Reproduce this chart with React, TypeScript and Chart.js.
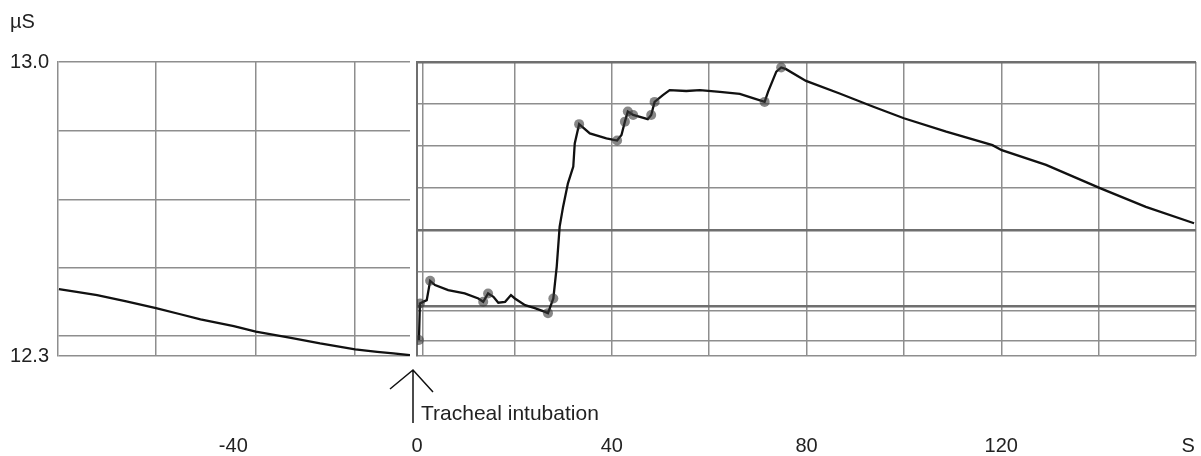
import React, { useEffect, useRef } from 'react';
import { Chart, registerables } from 'chart.js';

Chart.register(...registerables);

// ---- Data (time in s, skin conductance in µS) ----
const leftTime = [-78.8, -74.5, -70.3, -63.8, -57.2, -52.0, -47.3, -39.9, -35.0, -27.5, -20.7, -12.9, -8.0, -4.4, -0.7];
const leftValues = [12.459, 12.452, 12.445, 12.430, 12.414, 12.400, 12.387, 12.371, 12.358, 12.344, 12.330, 12.316, 12.310, 12.306, 12.302];

const rightTime = [
  0.4, 0.6, 2.0, 2.7, 3.7, 6.4, 9.8, 12.6, 13.6, 14.6,
  15.7, 16.7, 18.1, 19.3, 20.1, 22.2, 24.2, 26.3, 26.9, 28.0,
  28.7, 29.3, 30.0, 31.0, 32.1, 32.4, 33.3, 35.5, 38.9, 41.1,
  42.0, 42.7, 43.3, 44.4, 47.4, 48.1, 48.8, 50.5, 51.9, 55.3,
  58.1, 62.2, 66.3, 69.0, 71.4, 72.1, 73.8, 74.8, 75.8, 79.9,
  86.8, 93.6, 100.0, 108.7, 118.2, 120.1, 129.2, 140.4, 149.7, 159.6,
];
const rightValues = [
  12.338, 12.425, 12.433, 12.479, 12.469, 12.457, 12.449, 12.437, 12.429, 12.449,
  12.441, 12.427, 12.429, 12.445, 12.437, 12.421, 12.414, 12.405, 12.402, 12.437,
  12.513, 12.608, 12.655, 12.711, 12.751, 12.806, 12.852, 12.830, 12.818, 12.813,
  12.826, 12.858, 12.882, 12.874, 12.864, 12.874, 12.905, 12.921, 12.933, 12.931,
  12.933, 12.929, 12.924, 12.914, 12.905, 12.929, 12.977, 12.987, 12.983, 12.955,
  12.925, 12.894, 12.866, 12.834, 12.802, 12.790, 12.755, 12.699, 12.655, 12.616,
];
// indices of the right-series samples that carry event markers
const rightMarkerIdx = [0, 1, 3, 8, 9, 18, 19, 26, 29, 31, 32, 33, 35, 36, 44, 47];

// ---- Axis ticks / gridlines ----
const leftGridX = [-57.3, -35.1, -12.9];
const leftLabelX = [-40];
const leftGridY = [13.0, 12.836, 12.671, 12.509, 12.348, 12.3];
const yLabels = [13.0, 12.3];

const rightGridX = [0, 1.2, 20, 40, 60, 80, 100, 120, 140, 160];
const rightLabelX = [0, 40, 80, 120];
const unitLabelX = 158.4; // position of the "S" unit label
const rightGridY = [13.0, 12.9, 12.8, 12.7, 12.6, 12.5, 12.419, 12.407, 12.336, 12.3];
const heavyRightY = [13.0, 12.6, 12.419];

const INTUBATION_T = 0;

const FONT = "'Liberation Sans', Arial, sans-serif";
const GRID = '#8e8e8e';
const TEXT = '#222222';
const CLEAR = 'rgba(0,0,0,0)';
const LABEL_DROP = 78;
const near = (a: number, b: number) => Math.abs(a - b) < 1e-6;
const inList = (v: number, list: number[]) => list.some((l) => near(l, v));

export default function App() {
  const leftRef = useRef<HTMLCanvasElement | null>(null);
  const rightRef = useRef<HTMLCanvasElement | null>(null);

  useEffect(() => {
    if (!leftRef.current || !rightRef.current) return;

    const left = new Chart(leftRef.current, {
      type: 'line',
      data: {
        datasets: [
          {
            data: leftTime.map((t, i) => ({ x: t, y: leftValues[i] })),
            borderColor: '#111',
            borderWidth: 2.3,
            pointRadius: 0,
            tension: 0,
          },
        ],
      },
      options: {
        animation: false,
        responsive: false,
        maintainAspectRatio: false,
        events: [],
        layout: { padding: { left: 10, right: 2, top: 0, bottom: 0 } },
        plugins: {
          legend: { display: false },
          tooltip: { enabled: false },
          title: {
            display: true,
            text: 'µS',
            align: 'start',
            color: TEXT,
            font: { family: FONT, size: 20, weight: 'normal' },
            padding: { top: 10, bottom: 28 },
          },
        },
        scales: {
          x: {
            type: 'linear',
            min: -79,
            max: -0.7,
            afterBuildTicks: (s: any) => {
              s.ticks = [...leftGridX, ...leftLabelX].sort((a, b) => a - b).map((v) => ({ value: v }));
            },
            afterFit: (s: any) => {
              s.height = 100;
            },
            ticks: {
              autoSkip: false,
              maxRotation: 0,
              padding: 0,
              color: TEXT,
              font: { family: FONT, size: 20 },
              callback: (v: any) => (inList(Number(v), leftLabelX) ? String(v) : ''),
            },
            grid: {
              color: (ctx: any) => (ctx.tick && inList(ctx.tick.value, leftLabelX) ? CLEAR : GRID),
              lineWidth: 1.5,
              drawTicks: true,
              tickLength: LABEL_DROP,
              tickColor: CLEAR,
            },
            border: { display: false },
          },
          y: {
            type: 'linear',
            min: 12.3,
            max: 13.0,
            afterBuildTicks: (s: any) => {
              s.ticks = [...leftGridY].sort((a, b) => a - b).map((v) => ({ value: v }));
            },
            afterFit: (s: any) => {
              s.width = 48;
            },
            ticks: {
              autoSkip: false,
              padding: 9,
              color: TEXT,
              font: { family: FONT, size: 20 },
              callback: (v: any) => (inList(Number(v), yLabels) ? Number(v).toFixed(1) : ''),
            },
            grid: { color: GRID, lineWidth: 1.5, drawTicks: false },
            border: { display: true, color: GRID, width: 1.5 },
          },
        },
      },
    } as any);

    const annotation = {
      id: 'intubation',
      afterDraw(chart: any) {
        const { ctx, chartArea } = chart;
        const x = chart.scales.x.getPixelForValue(INTUBATION_T) - 4;
        const b = chartArea.bottom;
        ctx.save();
        ctx.strokeStyle = '#111';
        ctx.lineWidth = 1.5;
        ctx.beginPath();
        ctx.moveTo(x, b + 14);
        ctx.lineTo(x, b + 67);
        ctx.moveTo(x - 23, b + 33);
        ctx.lineTo(x, b + 14);
        ctx.lineTo(x + 20, b + 36);
        ctx.stroke();
        ctx.fillStyle = TEXT;
        ctx.font = `21px ${FONT}`;
        ctx.textAlign = 'left';
        ctx.textBaseline = 'alphabetic';
        ctx.fillText('Tracheal intubation', x + 8, b + 64);
        ctx.restore();
      },
    };

    const right = new Chart(rightRef.current, {
      type: 'line',
      data: {
        datasets: [
          {
            data: rightMarkerIdx.map((i) => ({ x: rightTime[i], y: rightValues[i] })),
            showLine: false,
            pointRadius: 5,
            pointBorderWidth: 0,
            pointBackgroundColor: 'rgba(55,55,55,0.6)',
          },
          {
            data: rightTime.map((t, i) => ({ x: t, y: rightValues[i] })),
            borderColor: '#111',
            borderWidth: 2.3,
            pointRadius: 0,
            tension: 0,
          },
        ],
      },
      options: {
        animation: false,
        responsive: false,
        maintainAspectRatio: false,
        events: [],
        layout: { padding: { left: 37, right: 5, top: 62, bottom: 0 } },
        plugins: {
          legend: { display: false },
          tooltip: { enabled: false },
          title: { display: false },
        },
        scales: {
          x: {
            type: 'linear',
            min: 0,
            max: 160,
            afterBuildTicks: (s: any) => {
              s.ticks = [...rightGridX, unitLabelX].sort((a, b) => a - b).map((v) => ({ value: v }));
            },
            afterFit: (s: any) => {
              s.height = 100;
            },
            ticks: {
              autoSkip: false,
              maxRotation: 0,
              padding: 0,
              color: TEXT,
              font: { family: FONT, size: 20 },
              callback: (v: any) => {
                const n = Number(v);
                if (near(n, unitLabelX)) return 'S';
                return inList(n, rightLabelX) ? String(n) : '';
              },
            },
            grid: {
              color: (ctx: any) => (ctx.tick && near(ctx.tick.value, unitLabelX) ? CLEAR : GRID),
              lineWidth: 1.5,
              drawTicks: true,
              tickLength: LABEL_DROP,
              tickColor: CLEAR,
            },
            border: { display: false },
          },
          y: {
            type: 'linear',
            min: 12.3,
            max: 13.0,
            afterBuildTicks: (s: any) => {
              s.ticks = [...rightGridY].sort((a, b) => a - b).map((v) => ({ value: v }));
            },
            afterFit: (s: any) => {
              s.width = 0;
            },
            ticks: { display: false },
            grid: {
              color: (ctx: any) => (ctx.tick && inList(ctx.tick.value, heavyRightY) ? '#6f6f6f' : GRID),
              lineWidth: (ctx: any) => (ctx.tick && inList(ctx.tick.value, heavyRightY) ? 2.5 : 1.5),
              drawTicks: false,
            },
            border: { display: true, color: '#6f6f6f', width: 2 },
          },
        },
      },
      plugins: [annotation],
    } as any);

    return () => {
      left.destroy();
      right.destroy();
    };
  }, []);

  return (
    <div style={{ position: 'fixed', left: 0, top: 0, width: 1201, height: 456, background: '#fff' }}>
      <canvas ref={leftRef} width={412} height={456} style={{ position: 'absolute', left: 0, top: 0, width: 412, height: 456 }} />
      <canvas ref={rightRef} width={821} height={456} style={{ position: 'absolute', left: 380, top: 0, width: 821, height: 456 }} />
    </div>
  );
}
